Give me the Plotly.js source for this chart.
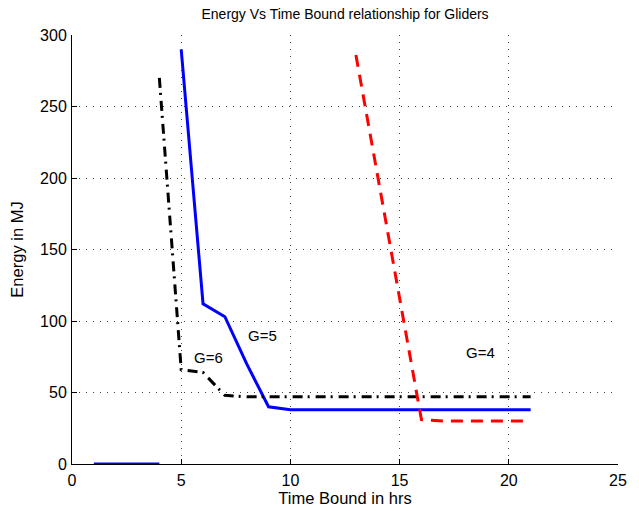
<!DOCTYPE html>
<html>
<head>
<meta charset="utf-8">
<script src="https://cdn.plot.ly/plotly-3.0.1.min.js"></script>
<style>html,body{margin:0;padding:0;background:#fff}#chart{width:639px;height:511px}</style>
</head>
<body>
<div id="chart"></div>
<script>
// G=5 series (solid blue); null breaks the line between the zero segment and the curve
var g5X = [1, 2, 3, 4, null, 5, 6, 7, 8, 9, 10, 11, 12, 13, 14, 15, 16, 17, 18, 19, 20, 21];
var g5Y = [0, 0, 0, 0, null, 290, 112, 103, 70, 40, 38, 38, 38, 38, 38, 38, 38, 38, 38, 38, 38, 38];
// G=6 series (black dash-dot)
var g6X = [4, 5, 6, 7, 8, 9, 10, 11, 12, 13, 14, 15, 16, 17, 18, 19, 20, 21];
var g6Y = [270, 66, 64, 48, 47, 47, 47, 47, 47, 47, 47, 47, 47, 47, 47, 47, 47, 47];
// G=4 series (red dashed)
var g4X = [13, 14, 15, 16, 17, 18, 19, 20, 21];
var g4Y = [286, 201, 116, 31, 30, 30, 30, 30, 30];
// labels
var labelText = ['G=5', 'G=6', 'G=4'];
var labelX = [8.73, 6.24, 18.71];
var labelY = [90, 74.5, 78];

var font = 'Arial, "Liberation Sans", Helvetica, sans-serif';

var traces = [
  {x: g5X, y: g5Y, mode: 'lines', line: {color: '#0000ff', width: 3}, connectgaps: false, showlegend: false},
  {x: g6X, y: g6Y, mode: 'lines', line: {color: '#000000', width: 3, dash: '10px,5px,2px,6px'}, showlegend: false},
  {x: g4X, y: g4Y, mode: 'lines', line: {color: '#ff0000', width: 3, dash: '12px,8px'}, showlegend: false}
];

var annotations = labelText.map(function (t, i) {
  return {x: labelX[i], y: labelY[i], xref: 'x', yref: 'y', text: t, showarrow: false,
          font: {family: font, size: 15, color: '#000'}};
});

var axisCommon = {
  showline: true, linecolor: '#000', linewidth: 1,
  ticks: 'inside', ticklen: 5, tickcolor: '#000',
  showgrid: true, gridcolor: '#444', gridwidth: 1, griddash: '1px,6px',
  zeroline: false, mirror: false, layer: 'below traces',
  tickfont: {family: font, size: 16, color: '#000'}
};

var layout = {
  width: 639, height: 511,
  margin: {l: 72, r: 21, t: 34.5, b: 46.5},
  paper_bgcolor: '#fff', plot_bgcolor: '#fff',
  title: {text: 'Energy Vs Time Bound relationship for Gliders', x: 0.54, xanchor: 'center', y: 0.972, yanchor: 'middle',
          font: {family: font, size: 14, color: '#000'}},
  xaxis: Object.assign({}, axisCommon, {
    range: [0, 25], tickvals: [0, 5, 10, 15, 20, 25], ticktext: ['0', '5', '10', '15', '20', '25'],
    ticklabelstandoff: 2,
    title: {text: 'Time Bound in hrs', font: {family: font, size: 16.5, color: '#000'}, standoff: 3}
  }),
  yaxis: Object.assign({}, axisCommon, {
    range: [0, 300], tickvals: [0, 50, 100, 150, 200, 250, 300], ticktext: ['0', '50', '100', '150', '200', '250', '300'],
    ticklabelstandoff: 1,
    title: {text: 'Energy in MJ', font: {family: font, size: 16.5, color: '#000'}, standoff: 12}
  }),
  annotations: annotations
};

Plotly.newPlot('chart', traces, layout, {staticPlot: true, displayModeBar: false});
</script>
</body>
</html>
